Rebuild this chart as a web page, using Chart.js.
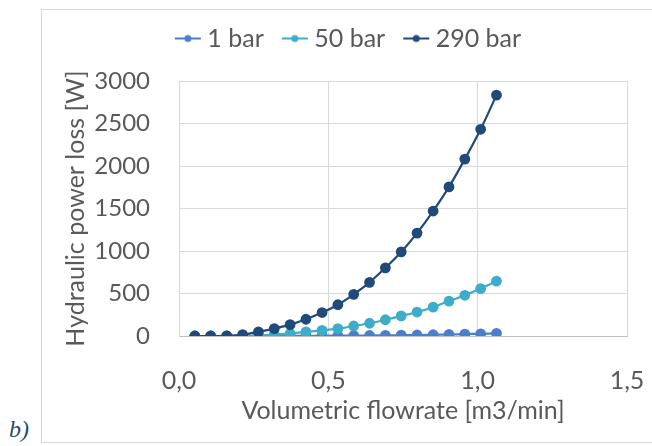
<!DOCTYPE html>
<html>
<head>
<meta charset="utf-8">
<script src="https://cdn.jsdelivr.net/npm/chart.js@4"></script>
<style>
  html, body { margin: 0; padding: 0; background: #fff; }
  #wrap { position: relative; width: 652px; height: 446px; overflow: hidden; }
  #frame { position: absolute; left: 41px; top: 9px; width: 640px; height: 432px; border: 1px solid #d9d9d9; }
  #lbl { position: absolute; left: 9px; top: 416px; font: italic 24px "Liberation Serif", serif; color: #2f4a6d; }
  canvas { position: absolute; left: 0; top: 0; }
</style>
</head>
<body>
<div id="wrap">
  <div id="frame"></div>
  <div id="lbl">b)</div>
  <canvas id="chart" width="652" height="446"></canvas>
</div>
<script>
// valores
const flow = [0.053, 0.106, 0.16, 0.213, 0.266, 0.319, 0.372, 0.425, 0.479, 0.532,
              0.585, 0.638, 0.691, 0.744, 0.797, 0.851, 0.904, 0.957, 1.01, 1.063];
const loss1bar = [0, 0, 0, 0, 1, 1, 2, 2, 3, 4, 5, 6, 8, 10, 12, 15, 18, 22, 26, 31];
const loss50bar = [0, 0, 0, 2, 5, 16, 28, 49, 66, 87, 118, 150, 191, 236, 282, 339, 410, 479, 558, 646];
const loss290bar = [0, 0, 2, 16, 49, 87, 134, 197, 276, 368, 490, 631, 802, 989, 1211, 1470, 1754, 2081, 2432, 2834];

const seriesNames = ['1 bar', '50 bar', '290 bar'];
const seriesColors = ['#4a7fc9', '#3eaccb', '#1f4a7a'];

const FONT = 'Lato';
const TXT = '#595959';

function toPoints(ys) {
    return ys.map((y, i) => ({ x: flow[i], y: y }));
}

// marcador da legenda: linha com ponto (deslocado para a direita, perto do texto)
function legendMarker(color) {
    const c = document.createElement('canvas');
    c.width = 44; c.height = 10;
    const g = c.getContext('2d');
    g.strokeStyle = color; g.lineWidth = 2;
    g.beginPath(); g.moveTo(16, 5); g.lineTo(42, 5); g.stroke();
    g.fillStyle = color;
    g.beginPath(); g.arc(29, 5, 3.5, 0, Math.PI * 2); g.fill();
    return c;
}

const allSeries = [loss1bar, loss50bar, loss290bar];
const datasets = allSeries.map((ys, k) => ({
    label: seriesNames[k],
    data: toPoints(ys),
    borderColor: seriesColors[k],
    backgroundColor: seriesColors[k],
    pointRadius: 4.3,
    pointHoverRadius: 4.3,
    borderWidth: 2.2,
    tension: 0.3,
    order: 3 - k
}));

// espaço extra abaixo da legenda
const legendGap = {
    id: 'legendGap',
    beforeInit(chart) {
        const fit = chart.legend.fit;
        chart.legend.fit = function() {
            fit.bind(chart.legend)();
            this.height += 20;
        };
    }
};

new Chart(document.getElementById('chart').getContext('2d'), {
    type: 'line',
    data: { datasets: datasets },
    plugins: [legendGap],
    options: {
        responsive: false,
        animation: false,
        layout: { padding: { left: 61, right: 25, top: 16, bottom: 20 } },
        plugins: {
            legend: {
                position: 'top',
                labels: {
                    usePointStyle: true,
                    pointStyleWidth: 28,
                    boxHeight: 10,
                    font: { family: FONT, size: 25 },
                    color: TXT,
                    padding: 10,
                    generateLabels: function(chart) {
                        return chart.data.datasets.map((ds, i) => ({
                            text: ds.label,
                            fontColor: TXT,
                            pointStyle: legendMarker(ds.borderColor),
                            datasetIndex: i,
                            lineWidth: 0,
                            hidden: false
                        }));
                    }
                }
            },
            tooltip: { enabled: false }
        },
        scales: {
            x: {
                type: 'linear',
                min: 0, max: 1.5,
                afterFit: s => { s.height = 90; s.paddingLeft = 0; s.paddingRight = 0; },
                ticks: {
                    stepSize: 0.5,
                    maxRotation: 0,
                    font: { family: FONT, size: 25 },
                    color: TXT,
                    padding: 30,
                    callback: v => v.toFixed(1).replace('.', ',')
                },
                grid: { color: '#d9d9d9', drawTicks: false },
                border: { color: '#bfbfbf' },
                title: {
                    display: true,
                    text: 'Volumetric flowrate [m3/min]',
                    font: { family: FONT, size: 25 },
                    color: TXT,
                    padding: { top: 2, bottom: 0 }
                }
            },
            y: {
                min: 0, max: 3000,
                afterFit: s => { s.width = 118; s.paddingTop = 0; s.paddingBottom = 0; },
                ticks: {
                    stepSize: 500,
                    font: { family: FONT, size: 24 },
                    color: TXT,
                    padding: 29,
                    callback: v => String(v)
                },
                grid: { color: '#d9d9d9', drawTicks: false },
                border: { color: '#d9d9d9' },
                title: {
                    display: true,
                    text: 'Hydraulic power loss [W]',
                    font: { family: FONT, size: 25 },
                    color: TXT,
                    padding: { top: 0, bottom: 0 }
                }
            }
        }
    }
});
</script>
</body>
</html>
